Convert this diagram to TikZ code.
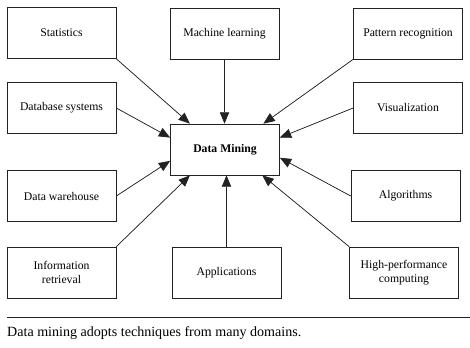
\documentclass[tikz,border=0pt]{standalone}
\usepackage{fontspec}
\setmainfont{Liberation Serif}
\usepackage{tikz}
\usetikzlibrary{arrows.meta,positioning,calc}
\definecolor{dmline}{HTML}{222222}
\tikzset{
  box/.style={draw=dmline,line width=0.6pt,fill=white,align=center,inner sep=2pt,font=\fontsize{10}{12}\selectfont,minimum width=3.27cm,minimum height=1.53cm},
  ar/.style={-{Triangle[length=3.4mm,width=2.8mm]},draw=dmline,fill=dmline,line width=0.6pt},
}
\begin{document}
\begin{tikzpicture}[x=0.03cm,y=-0.03cm]
  \useasboundingbox (0,0) rectangle (470,348);
  \node[box] (stat) at (61.5,33) {Statistics};
  \node[box] (ml) at (224.5,33.5) {Machine learning};
  \node[box] (pr) at (408,33.5) {Pattern recognition};
  \node[box] (dbs) at (61.5,108) {Database systems};
  \node[box] (vis) at (408,108) {Visualization};
  \node[box] (dm) at (225,149.5) {\textbf{Data Mining}};
  \node[box] (dw) at (61.5,196) {Data warehouse};
  \node[box] (alg) at (405.5,196) {Algorithms};
  \node[box] (ir) at (61.5,272.5) {Information\\retrieval};
  \node[box] (app) at (226.5,272.5) {Applications};
  \node[box] (hpc) at (404,272.5) {High-performance\\computing};
  \draw[ar] (stat.south east) -- ($(dm.north west)!0.18!(dm.north east)$);
  \draw[ar] (ml.south) -- (ml.south |- dm.north);
  \draw[ar] (pr.south west) -- ($(dm.north west)!0.85!(dm.north east)$);
  \draw[ar] (dbs.east) -- ($(dm.north west)!0.27!(dm.south west)$);
  \draw[ar] (vis.west) -- ($(dm.north east)!0.27!(dm.south east)$);
  \draw[ar] (dw.east) -- ($(dm.north west)!0.72!(dm.south west)$);
  \draw[ar] (alg.west) -- ($(dm.north east)!0.66!(dm.south east)$);
  \draw[ar] (ir.north east) -- ($(dm.south west)!0.18!(dm.south east)$);
  \draw[ar] (app.north) -- (app.north |- dm.south);
  \draw[ar] (hpc.north west) -- ($(dm.south west)!0.84!(dm.south east)$);
  \coordinate (capl) at (7,317);
  \coordinate (capr) at (470,317);
  \draw[dmline,line width=0.6pt] (capl) -- (capr);
  \node[anchor=west,inner sep=0pt,font=\fontsize{12}{14}\selectfont] (cap) at (7,333) {Data mining adopts techniques from many domains.};
\end{tikzpicture}
\end{document}
